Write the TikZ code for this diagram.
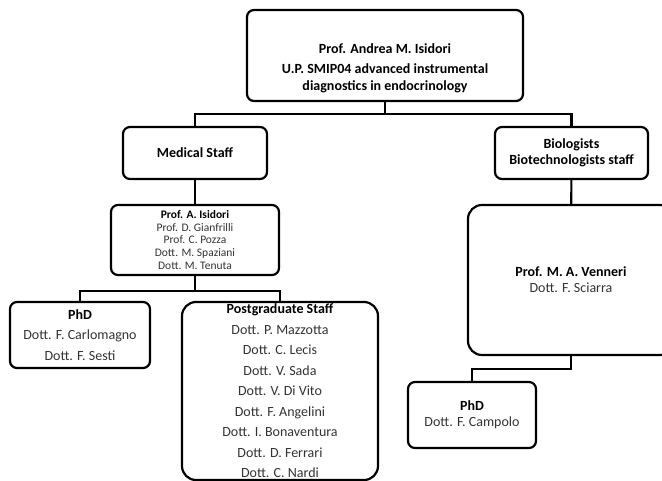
\documentclass[tikz,border=0pt]{standalone}
\usepackage{fontspec}
\setmainfont{Carlito}
\usetikzlibrary{positioning}

\begin{document}
\begin{tikzpicture}[
  x=1pt, y=-1pt,
  box/.style={
    draw, line width=2.2pt, rounded corners=7pt, fill=white,
    inner sep=2pt, align=center
  },
  bigbox/.style={box, rounded corners=14pt},
  main/.style={font=\fontsize{14}{20.5}\selectfont},
  tight/.style={font=\fontsize{14}{16}\selectfont},
  small/.style={font=\fontsize{11.5}{12.7}\selectfont},
  wire/.style={line width=2.2pt}
]
  \useasboundingbox (0,0) rectangle (662,480);

  % top of the tree
  \node[box, font=\fontsize{14}{17}\selectfont, minimum width=276pt, minimum height=91pt]
        (head) at (385,55.5)
        {\rule{0pt}{35pt}\textbf{Prof. Andrea M. Isidori}\\[3pt]
         \textbf{U.P. SMIP04 advanced instrumental}\\
         \textbf{diagnostics in endocrinology}};

  % the two branches
  \node[box, main, minimum width=144pt, minimum height=52pt]
        (med) at (195,153) {\textbf{Medical Staff}};
  \node[box, tight, minimum width=153pt, minimum height=52pt]
        (bio) at (571.5,153) {\textbf{Biologists}\\\textbf{Biotechnologists staff}};

  % medical side
  \node[box, small, minimum width=168pt, minimum height=70pt]
        (lead) at (195,240)
        {\textbf{Prof. A. Isidori}\\
         {\color{black!80}Prof. D. Gianfrilli}\\
         {\color{black!80}Prof. C. Pozza}\\
         {\color{black!80}Dott. M. Spaziani}\\
         {\color{black!80}Dott. M. Tenuta}};
  \node[box, main, minimum width=140pt, minimum height=66pt]
        (phd) at (80,335)
        {\textbf{PhD}\\
         {\color{black!80}Dott. F. Carlomagno}\\
         {\color{black!80}Dott. F. Sesti}};
  \node[bigbox, main, minimum width=196pt, minimum height=178pt]
        (pg) at (280,391)
        {\textbf{Postgraduate Staff}\\
         {\color{black!80}Dott. P. Mazzotta}\\
         {\color{black!80}Dott. C. Lecis}\\
         {\color{black!80}Dott. V. Sada}\\
         {\color{black!80}Dott. V. Di Vito}\\
         {\color{black!80}Dott. F. Angelini}\\
         {\color{black!80}Dott. I. Bonaventura}\\
         {\color{black!80}Dott. D. Ferrari}\\
         {\color{black!80}Dott. C. Nardi}};

  % biology side
  \node[bigbox, tight, minimum width=206pt, minimum height=150pt]
        (venn) at (571,280)
        {\textbf{Prof. M. A. Venneri}\\
         {\color{black!80}Dott. F. Sciarra}};
  \node[box, tight, minimum width=128pt, minimum height=66pt]
        (phdb) at (472,415)
        {\textbf{PhD}\\
         {\color{black!80}Dott. F. Campolo}};

  % connectors
  \draw[wire] (head.south) -- ++(0,12) -| (med.north);
  \draw[wire] (head.south) -- ++(0,12) -| (bio.north);
  \draw[wire] (med) -- (lead);
  \draw[wire] (lead.south) -- ++(0,15) -| (phd.north);
  \draw[wire] (lead.south) -- ++(0,15) -| (pg.north);
  \draw[wire] (bio) -- (venn);
  \draw[wire] (venn.south) -- ++(0,13) -| (phdb.north);
\end{tikzpicture}
\end{document}
